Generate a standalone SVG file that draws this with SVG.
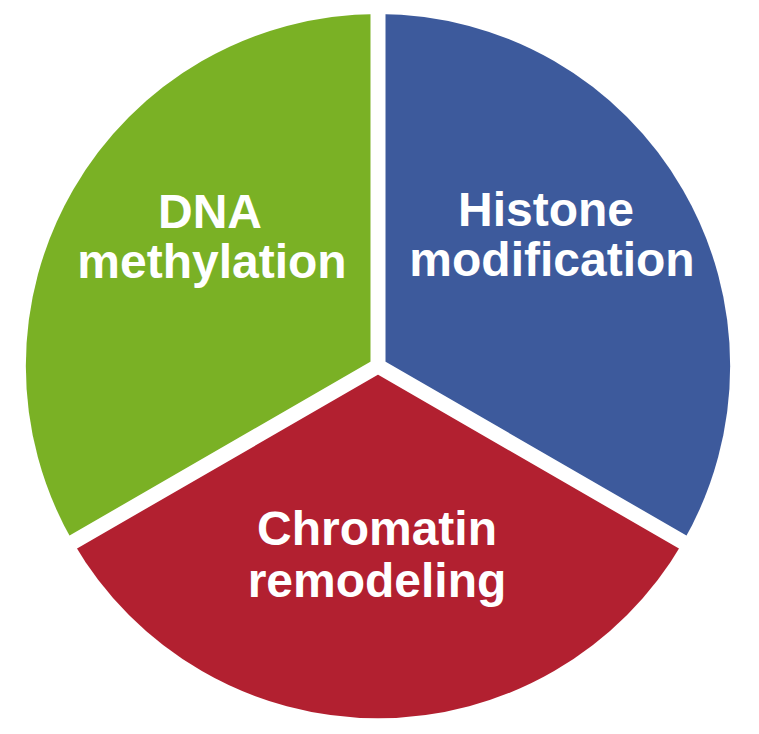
<svg xmlns="http://www.w3.org/2000/svg" width="759" height="734" viewBox="0 0 759 734">
<style>
.t{font-family:"Liberation Sans",Arial,sans-serif;font-weight:bold;font-size:48px;fill:#fff;text-anchor:middle}
.gap{stroke:#fff;stroke-width:15;fill:none}
</style>
<rect width="759" height="734" fill="#fff"/>
<g id="dna">
<path d="M378,366 L378,14 A352,352 0 0 0 73,542 Z" fill="#7AB125"/>
<text class="t" x="210" y="228">DNA</text>
<text class="t" x="212" y="278">methylation</text>
</g>
<g id="histone">
<path d="M378,366 L378,14 A352,352 0 0 1 683,542 Z" fill="#3D5A9C"/>
<text class="t" x="546" y="226">Histone</text>
<text class="t" x="552" y="276">modification</text>
</g>
<g id="chromatin">
<path d="M378,366 L683,542 A352,352 0 0 1 73,542 Z" fill="#B22030"/>
<text class="t" x="377" y="545">Chromatin</text>
<text class="t" x="377" y="597">remodeling</text>
</g>
<g id="connectors">
<path class="gap" d="M378,366 L378,0 M378,366 L700,552 M378,366 L56,552"/>
</g>
</svg>
